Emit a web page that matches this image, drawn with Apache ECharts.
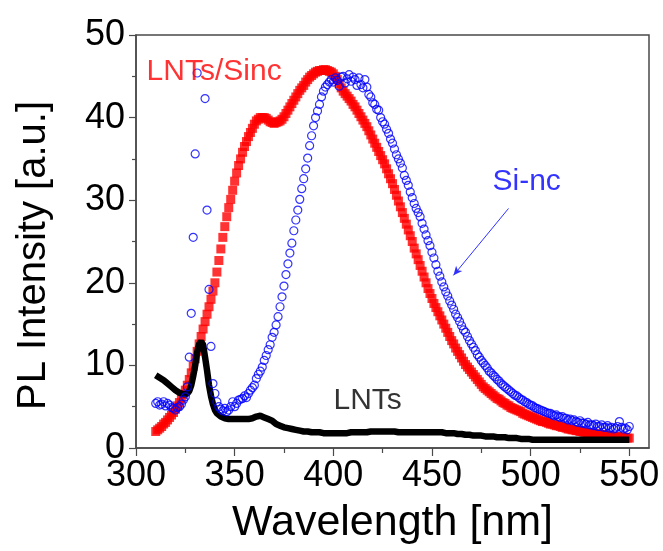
<!DOCTYPE html>
<html>
<head>
<meta charset="utf-8">
<script src="https://cdn.jsdelivr.net/npm/echarts@6/dist/echarts.min.js"></script>
<style>
  html, body { margin: 0; padding: 0; background: #fff; }
  #chart { width: 663px; height: 551px; }
</style>
</head>
<body>
<div id="chart"></div>
<script>
// Wavelength grid (nm): 310 ... 550, 1 nm step
const wavelengthStart = 310;
const wavelengthStep = 1;

// LNTs/Sinc (red squares)
const lntsSincValues = [
  2.0, 2.2, 2.4, 2.6, 2.9, 3.1, 3.4, 3.7, 4.0, 4.3,
  4.7, 5.1, 5.5, 6.0, 6.5, 7.0, 7.6, 8.3, 9.1, 9.9,
  10.8, 11.7, 12.6, 13.5, 14.4, 15.3, 16.2, 17.1, 18.0, 19.0,
  20.0, 21.3, 22.7, 24.1, 25.5, 26.8, 28.0, 29.1, 30.1, 31.2,
  32.3, 33.3, 34.2, 35.0, 35.8, 36.5, 37.1, 37.7, 38.2, 38.7,
  39.2, 39.6, 39.8, 40.0, 40.0, 40.0, 39.9, 39.7, 39.5, 39.4,
  39.3, 39.4, 39.5, 39.6, 39.8, 40.1, 40.5, 40.9, 41.3, 41.7,
  42.1, 42.5, 42.9, 43.3, 43.6, 43.9, 44.3, 44.6, 44.9, 45.1,
  45.3, 45.5, 45.6, 45.7, 45.7, 45.8, 45.8, 45.7, 45.6, 45.5,
  45.3, 45.0, 44.6, 44.1, 43.6, 43.2, 42.9, 42.6, 42.3, 42.0,
  41.6, 41.3, 40.9, 40.5, 40.1, 39.7, 39.3, 38.9, 38.4, 37.9,
  37.4, 36.9, 36.4, 35.9, 35.4, 34.9, 34.4, 33.8, 33.2, 32.6,
  32.0, 31.3, 30.6, 29.9, 29.2, 28.5, 27.8, 27.1, 26.4, 25.7,
  25.0, 24.2, 23.5, 22.8, 22.1, 21.4, 20.7, 20.0, 19.3, 18.7,
  18.1, 17.5, 17.0, 16.5, 16.0, 15.5, 15.0, 14.5, 14.0, 13.5,
  13.0, 12.6, 12.1, 11.7, 11.3, 10.9, 10.5, 10.1, 9.8, 9.5,
  9.2, 8.9, 8.6, 8.3, 8.0, 7.7, 7.4, 7.2, 7.0, 6.8,
  6.6, 6.4, 6.2, 6.0, 5.9, 5.7, 5.5, 5.4, 5.2, 5.1,
  4.9, 4.8, 4.7, 4.6, 4.5, 4.4, 4.2, 4.1, 4.0, 3.9,
  3.8, 3.7, 3.6, 3.5, 3.4, 3.3, 3.2, 3.2, 3.1, 3.0,
  2.9, 2.9, 2.8, 2.7, 2.7, 2.6, 2.5, 2.5, 2.4, 2.3,
  2.3, 2.2, 2.2, 2.1, 2.1, 2.0, 2.0, 1.9, 1.9, 1.8,
  1.8, 1.8, 1.7, 1.7, 1.7, 1.6, 1.6, 1.6, 1.5, 1.5,
  1.5, 1.4, 1.4, 1.4, 1.4, 1.3, 1.3, 1.3, 1.3, 1.2,
  1.2
];

// Si-nc (blue open circles); null = above the plotted range
const siNcValues = [
  5.4, 5.6, 5.2, 5.3, 5.6, 5.1, 5.4, 5.2, 4.9, 4.8,
  4.6, 4.9, 5.0, 5.3, 5.8, 6.2, 7.4, 11.0, 16.3, 25.5,
  35.6, 45.4, null, null, null, 42.3, 28.8, 19.2, 12.3, 7.8,
  6.6, 5.6, 5.0, 4.7, 4.5, 4.8, 4.4, 4.6, 5.0, 5.6,
  5.0, 5.4, 5.8, 5.9, 6.0, 6.3, 6.1, 6.6, 7.0, 7.3,
  7.6, 8.4, 8.9, 9.3, 9.8, 10.6, 11.2, 11.9, 12.5, 13.4,
  14.0, 14.9, 15.9, 17.1, 18.3, 19.6, 21.0, 22.3, 23.6, 24.8,
  26.3, 27.6, 28.8, 30.1, 31.4, 32.6, 33.8, 35.1, 36.6, 37.8,
  39.0, 40.0, 40.8, 41.6, 42.5, 43.2, 43.7, 44.0, 44.3, 44.6,
  44.3, 44.8, 44.5, 43.8, 44.9, 45.0, 44.2, 44.7, 45.2, 44.4,
  44.9, 44.6, 43.9, 44.8, 44.0, 43.6, 44.6, 43.7, 42.8, 42.5,
  41.8, 41.6, 41.0, 40.9, 40.0, 39.5, 39.2, 38.6, 38.1, 37.4,
  36.9, 36.2, 35.5, 35.0, 34.5, 33.9, 33.0, 32.4, 31.8, 31.0,
  30.3, 29.6, 29.0, 28.5, 28.0, 27.2, 26.5, 25.8, 25.1, 24.5,
  23.7, 23.0, 22.2, 21.4, 20.8, 20.1, 19.5, 18.9, 18.4, 17.8,
  17.3, 16.8, 16.2, 15.8, 15.3, 14.8, 14.3, 14.0, 13.5, 13.0,
  12.6, 12.2, 11.8, 11.3, 11.0, 10.6, 10.3, 10.0, 9.7, 9.3,
  9.1, 8.8, 8.6, 8.3, 8.1, 7.8, 7.6, 7.4, 7.2, 7.0,
  6.8, 6.6, 6.4, 6.3, 6.1, 5.9, 5.8, 5.6, 5.5, 5.3,
  5.2, 5.1, 4.9, 4.8, 4.7, 4.6, 4.5, 4.4, 4.3, 4.2,
  4.2, 4.0, 3.9, 4.0, 3.8, 3.7, 3.8, 3.6, 3.6, 3.4,
  3.5, 3.3, 3.4, 3.2, 3.1, 3.3, 3.0, 3.0, 2.9, 3.1,
  2.8, 2.8, 2.7, 2.9, 2.6, 2.6, 2.8, 2.5, 2.5, 2.7,
  2.4, 2.5, 2.3, 2.4, 2.6, 3.2, 2.5, 2.3, 2.4, 2.2,
  2.6
];

// LNTs (black)
const lntsValues = [
  8.8, 8.6, 8.5, 8.3, 8.2, 8.0, 7.8, 7.6, 7.4, 7.2,
  7.0, 6.9, 6.7, 6.6, 6.5, 6.5, 6.6, 6.9, 7.6, 8.7,
  10.0, 11.6, 12.6, 12.9, 12.5, 11.0, 9.4, 7.6, 6.3, 5.3,
  4.6, 4.2, 4.0, 3.8, 3.7, 3.6, 3.6, 3.5, 3.5, 3.5,
  3.5, 3.5, 3.5, 3.5, 3.5, 3.5, 3.5, 3.5, 3.5, 3.6,
  3.7, 3.8, 3.9, 3.9, 3.8, 3.7, 3.6, 3.5, 3.4, 3.3,
  3.1, 2.9, 2.8, 2.7, 2.6, 2.5, 2.4, 2.4, 2.3, 2.3,
  2.2, 2.2, 2.1, 2.1, 2.0, 2.0, 2.0, 2.0, 1.9, 1.9,
  1.9, 1.9, 1.9, 1.9, 1.8, 1.8, 1.8, 1.8, 1.8, 1.8,
  1.8, 1.8, 1.8, 1.8, 1.8, 1.8, 1.8, 1.8, 1.8, 1.9,
  1.9, 1.9, 1.9, 1.9, 1.9, 1.9, 2.0, 1.9, 2.0, 2.0,
  2.0, 2.0, 2.0, 2.0, 2.0, 2.0, 2.0, 2.0, 2.0, 2.0,
  2.0, 2.0, 1.9, 1.9, 1.9, 1.9, 1.9, 1.9, 1.9, 1.9,
  1.9, 1.9, 1.9, 1.9, 1.9, 1.9, 1.9, 1.9, 1.9, 1.9,
  1.9, 1.9, 1.9, 1.9, 1.9, 1.9, 1.9, 1.8, 1.8, 1.8,
  1.8, 1.8, 1.8, 1.7, 1.7, 1.7, 1.7, 1.6, 1.6, 1.6,
  1.6, 1.5, 1.5, 1.5, 1.5, 1.5, 1.5, 1.4, 1.4, 1.4,
  1.4, 1.4, 1.4, 1.3, 1.3, 1.3, 1.3, 1.3, 1.3, 1.2,
  1.2, 1.2, 1.2, 1.2, 1.1, 1.1, 1.1, 1.1, 1.1, 1.1,
  1.1, 1.0, 1.0, 1.0, 1.0, 1.0, 1.0, 1.0, 1.0, 1.0,
  1.0, 1.0, 1.0, 1.0, 1.0, 1.0, 1.0, 1.0, 1.0, 1.0,
  1.0, 1.0, 1.0, 1.0, 1.0, 1.0, 1.0, 1.0, 1.0, 1.0,
  1.0, 1.0, 1.0, 1.0, 1.0, 1.0, 1.0, 1.0, 1.0, 1.0,
  1.0, 1.0, 1.0, 1.0, 1.0, 1.0, 1.0, 1.0, 1.0, 1.0,
  1.0
];

// Axis ticks
const xTickValues = [300, 350, 400, 450, 500, 550];
const xMinorTickValues = [325, 375, 425, 475, 525];
const yTickValues = [0, 10, 20, 30, 40, 50];

// Annotations: [text, wavelength, intensity, colour]
const annotationLabels = [
  ['LNTs/Sinc', 339.6, 45.5, '#ff0000'],
  ['Si-nc', 498.0, 32.2, '#0000ff'],
  ['LNTs', 417.4, 5.7, '#000000']
];
const arrowFrom = [488.8, 29.0];
const arrowTo = [460.9, 20.9];

function pairs(values) {
  const out = [];
  for (let i = 0; i < values.length; i++) {
    out.push([wavelengthStart + i * wavelengthStep, values[i]]);
  }
  return out;
}

const FONT = '"Liberation Sans", Arial, sans-serif';
const AXIS_COLOR = '#4a4a4a';

const chart = echarts.init(document.getElementById('chart'), null, { renderer: 'canvas' });

const option = {
  animation: false,
  backgroundColor: '#fff',
  grid: {
    left: 136, top: 35, width: 513, height: 413,
    show: true, borderColor: AXIS_COLOR, borderWidth: 1.5,
    containLabel: false
  },
  xAxis: [
    {
      type: 'value', min: 300, max: 560, interval: 50,
      name: 'Wavelength [nm]', nameLocation: 'middle', nameGap: 54,
      nameTextStyle: { fontFamily: FONT, fontSize: 43, color: '#000' },
      axisLine: { show: true, onZero: false, lineStyle: { color: AXIS_COLOR, width: 1.5 } },
      axisTick: { show: true, inside: false, length: 8, customValues: xTickValues,
                  lineStyle: { color: AXIS_COLOR, width: 1.2 } },
      axisLabel: { show: true, margin: 10, customValues: xTickValues,
                   fontFamily: FONT, fontSize: 36, color: '#000' },
      splitLine: { show: false }
    },
    {
      type: 'value', min: 300, max: 560, gridIndex: 0, position: 'bottom',
      axisLine: { show: false },
      axisTick: { show: true, inside: false, length: 5, customValues: xMinorTickValues,
                  lineStyle: { color: AXIS_COLOR, width: 1.2 } },
      axisLabel: { show: false },
      splitLine: { show: false }
    }
  ],
  yAxis: [
    {
      type: 'value', min: 0, max: 50, interval: 10,
      name: 'PL Intensity [a.u.]', nameLocation: 'middle', nameGap: 82,
      nameTextStyle: { fontFamily: FONT, fontSize: 40, color: '#000', padding: [0, 28, 0, 0] },
      axisLine: { show: true, onZero: false, lineStyle: { color: AXIS_COLOR, width: 1.5 } },
      axisTick: { show: true, inside: false, length: 7, customValues: yTickValues,
                  lineStyle: { color: AXIS_COLOR, width: 1.2 } },
      minorTick: { show: true, splitNumber: 2, length: 4, lineStyle: { color: AXIS_COLOR, width: 1.2 } },
      axisLabel: { show: true, margin: 11, customValues: yTickValues,
                   fontFamily: FONT, fontSize: 36, color: '#000' },
      splitLine: { show: false }
    }
  ],
  series: [
    {
      name: 'LNTs/Sinc', type: 'scatter', xAxisIndex: 0, yAxisIndex: 0,
      symbol: 'rect', symbolSize: 9,
      itemStyle: { color: '#ff0000' },
      data: pairs(lntsSincValues), z: 2
    },
    {
      name: 'LNTs', type: 'line', xAxisIndex: 0, yAxisIndex: 0,
      showSymbol: false, symbol: 'none',
      lineStyle: { color: '#000', width: 6.5 },
      data: pairs(lntsValues), z: 3
    },
    {
      name: 'Si-nc', type: 'scatter', xAxisIndex: 0, yAxisIndex: 0,
      symbol: 'circle', symbolSize: 8, clip: true,
      itemStyle: { color: 'rgba(255,255,255,0)', borderColor: '#0000ff', borderWidth: 1.2 },
      data: pairs(siNcValues).filter(p => p[1] !== null), z: 4,
      markLine: {
        silent: true, animation: false,
        symbol: ['none', 'arrow'], symbolSize: [6, 9],
        lineStyle: { color: '#3030ff', width: 1, type: 'solid' },
        label: { show: false },
        data: [[{ coord: arrowFrom }, { coord: arrowTo }]]
      }
    },
    {
      name: 'annotations', type: 'scatter', xAxisIndex: 0, yAxisIndex: 0,
      symbolSize: 0, silent: true, clip: false, z: 5,
      data: annotationLabels.map(a => ({
        value: [a[1], a[2]],
        label: { show: true, position: 'inside', formatter: a[0],
                 fontFamily: FONT, fontSize: 30, color: a[3] }
      }))
    }
  ]
};

chart.setOption(option);
</script>
</body>
</html>
